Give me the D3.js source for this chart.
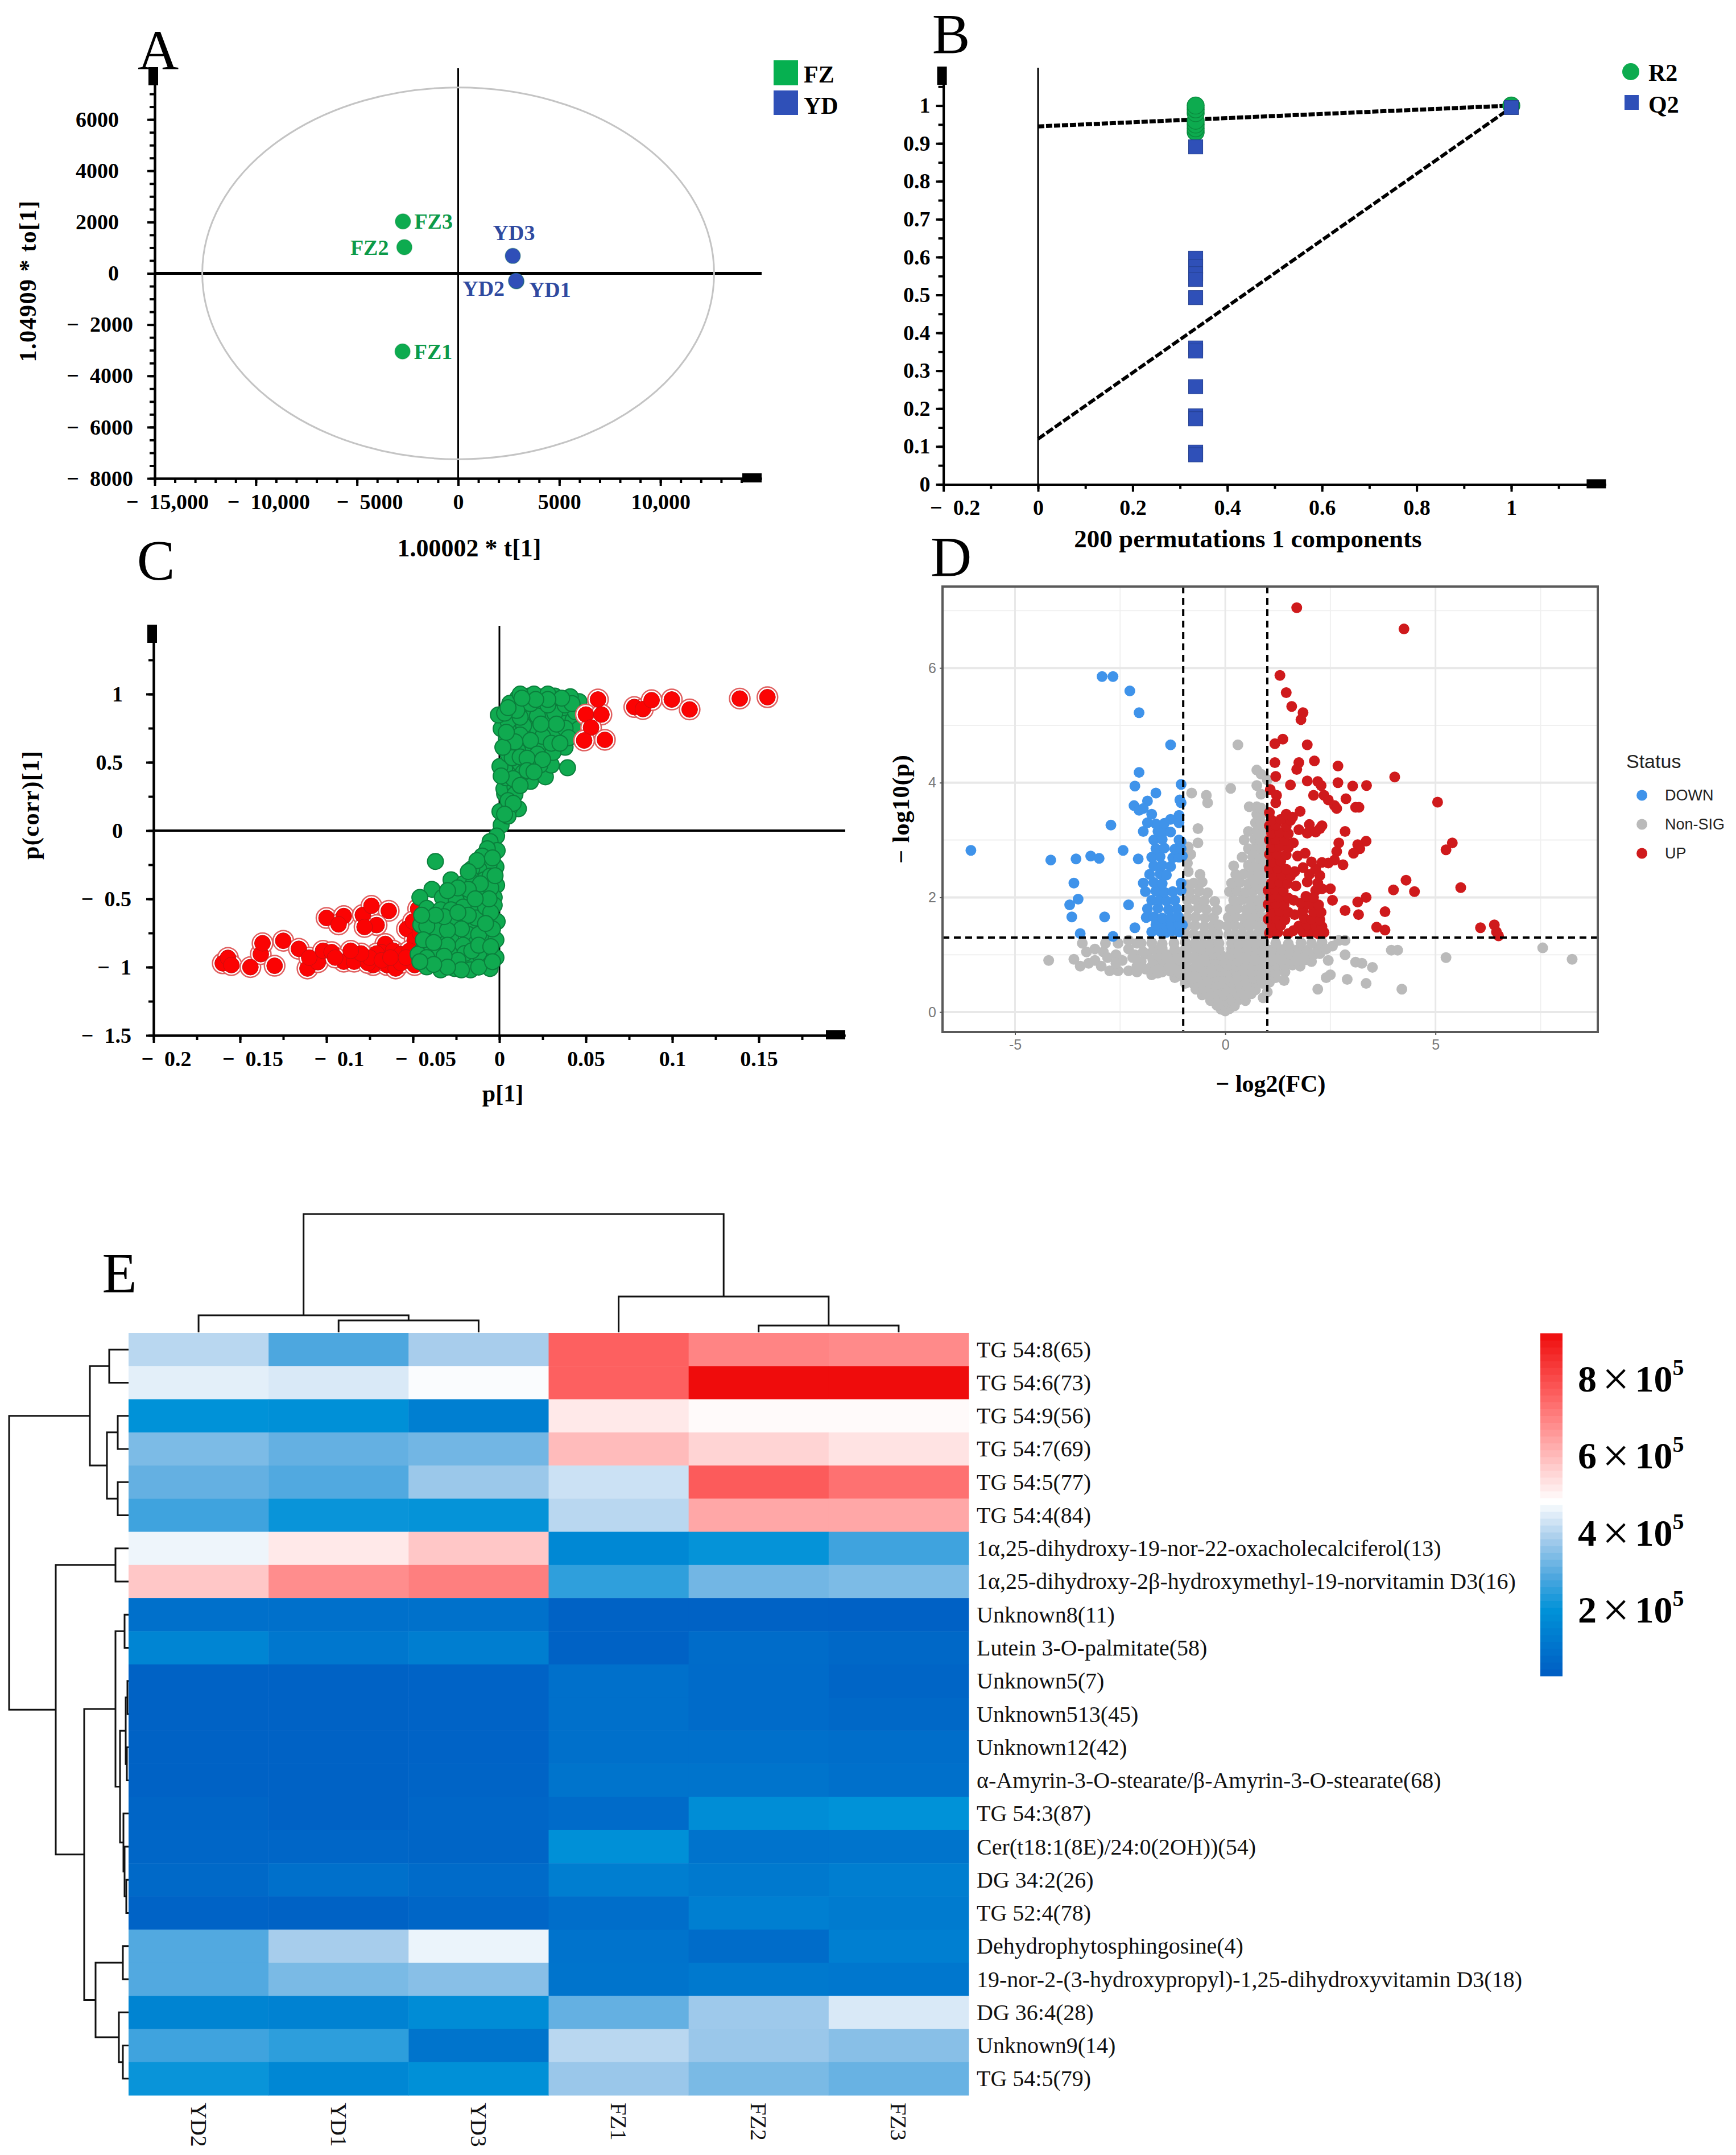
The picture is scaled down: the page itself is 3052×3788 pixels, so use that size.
<!DOCTYPE html>
<html>
<head>
<meta charset="utf-8">
<script src="https://cdn.jsdelivr.net/npm/d3@7"></script>
<style>
  body { margin: 0; background: #fff; }
  text { font-family: "Liberation Serif", serif; }
</style>
</head>
<body>
<div id="chart"></div>
<script>
// panel A - OPLS-DA scores
const scoreSamples = ["FZ1", "FZ2", "FZ3", "YD1", "YD2", "YD3"];
const scoreT = [-2750, -2660, -2730, 2880, 2860, 2700];
const scoreO = [-3045, 1020, 2025, -310, -290, 680];
const xTicksA = [-15000, -10000, -5000, 0, 5000, 10000];
const yTicksA = [-8000, -6000, -4000, -2000, 0, 2000, 4000, 6000];
const hotellingT = 12650, hotellingO = 7250;

// panel B - permutation test
const permX = [0.333, 1];
const r2Values = [0.93, 0.94, 0.95, 0.96, 0.98, 0.99, 1.0];
const q2Values = [0.891, 0.597, 0.575, 0.556, 0.541, 0.493, 0.36, 0.352, 0.258, 0.181, 0.173, 0.085, 0.078];
const r2Last = 1.0, q2Last = 0.995;
const r2Line = [[0, 0.945], [1, 1.0]];
const q2Line = [[0, 0.12], [1, 0.995]];
const xTicksB = [-0.2, 0, 0.2, 0.4, 0.6, 0.8, 1];
const yTicksB = [0, 0.1, 0.2, 0.3, 0.4, 0.5, 0.6, 0.7, 0.8, 0.9, 1];

// panel C - S-plot
const xTicksC = [-0.2, -0.15, -0.1, -0.05, 0, 0.05, 0.1, 0.15];
const yTicksC = [-1.5, -1, -0.5, 0, 0.5, 1];
const sRedLow = [[-.16,-.972],[-.157,-.932],[-.155,-.985],[-.144,-1],[-.138,-.905],[-.137,-.825],[-.13,-.99],[-.125,-.807],[-.116,-.866],[-.111,-1.01],[-.105,-.964],[-.11,-.93],[-.102,-.88],[-.097,-.89],[-.09,-.96],[-.084,-.96],[-.1,-.64],[-.09,-.626],[-.093,-.687],[-.079,-.618],[-.074,-.551],[-.064,-.588],[-.071,-.692],[-.078,-.706],[-.0535,-.72],[-.047,-.573],[-.05,-.666],[-.049,-.8],[-.066,-.83],[-.068,-.892],[-.0615,-.879],[-.057,-.905],[-.073,-.985],[-.076,-.97],[-.065,-.985],[-.06,-1.01],[-.057,-.97],[-.049,-.985],[-.052,-.88],[-.071,-.9],[-.075,-.93],[-.068,-.95],[-.063,-.93],[-.054,-.93],[-.08,-.9],[-.086,-.88],[-.095,-.93],[-.045,-.9],[-.046,-.75]];
const sRedHigh = [[.057,.96],[.078,.905],[.083,.89],[.088,.955],[.0997,.96],[.11,.887],[.139,.967],[.155,.977],[.05,.85],[.059,.85],[.053,.755],[.049,.66],[.061,.665]];
const sGreen = [[.001,.04],[.0003,.14],[.011,.16],[.006,.17],[.003,.27],[.0026,.306],[.009,.32],[.004,.386],[.018,.36],[.0074,.426],[.003,.453],[.0003,.47],[.0266,.394],[.0394,.46],[.03,.48],[.02,.546],[.012,.49],[.005,.56],[.038,.61],[.027,.56],[.015,.61],[.004,.67],[.028,.666],[.035,.72],[.0426,.72],[.0186,.706],[.009,.72],[.001,.746],[.005,.8],[.017,.81],[.028,.8],[.039,.865],[-.0006,.847],[.008,.887],[.0186,.88],[.0266,.85],[.046,.945],[.041,.98],[.032,.985],[.025,.98],[.017,.985],[.0106,.972],[.006,.932],[.0138,.93],[.0234,.92],[.033,.93],[.036,.8],[.0426,.81],[.022,.745],[.014,.77],[.031,.72],[.0234,.626],[.031,.573],[.0106,.586],[.046,.745],[.0074,.533],[.0138,.426],[.0234,.48],[.009,.266],[.005,.106],[.02,1],[.012,1],[.028,1],[.037,.9],[.044,.87],
[.012,.7],[.025,.69],[.038,.75],[.04,.68],[.03,.64],[.018,.66],[.009,.65],[.022,.56],[.035,.64],[.012,.54],[.002,.61],[.004,.72],[.012,.83],[.022,.84],[.032,.86],[.038,.92],[.028,.92],[.018,.93],[.01,.88],[.003,.86],[.033,.78],[.024,.78],[.042,.93],[.036,.97],[.028,.96],[.021,.96],[.013,.97],[.005,.9],[.016,.53],[.016,.44],[.008,.38],[.012,.33],[.005,.22],[.008,.2],[.025,.52],[.001,.4],[.003,.12],[.02,.43],
[-.0016,-.04],[-.0054,-.08],[-.0013,-.146],[-.007,-.133],[-.01,-.186],[-.037,-.226],[-.002,-.266],[-.006,-.25],[-.012,-.28],[-.016,-.28],[-.0016,-.4],[-.0087,-.36],[-.0167,-.346],[-.028,-.36],[-.0205,-.386],[-.039,-.43],[-.003,-.49],[-.012,-.44],[-.02,-.466],[-.046,-.49],[-.033,-.49],[-.025,-.51],[-.003,-.546],[-.01,-.53],[-.015,-.57],[-.042,-.57],[-.034,-.58],[-.0215,-.64],[-.0295,-.666],[-.039,-.666],[-.0455,-.69],[-.007,-.64],[-.0013,-.666],[-.0135,-.706],[-.018,-.76],[-.028,-.77],[-.04,-.786],[-.033,-.81],[-.0087,-.77],[-.002,-.8],[-.0135,-.825],[-.044,-.866],[-.047,-.905],[-.036,-.93],[-.026,-.89],[-.018,-.945],[-.007,-.88],[-.01,-.97],[-.002,-.93],[-.042,-.998],[-.034,-1.02],[-.026,-1.01],[-.0167,-1.02],[-.0054,-1.01],[-.029,-.96],[-.021,-.84],[-.0135,-.64],[-.025,-.69],[-.036,-.73],[-.0087,-.466],[-.015,-.386],[-.0054,-.333],[-.042,-.7],[-.044,-.8],[-.021,-.56],[-.028,-.58],[-.02,-.9],[-.012,-.9],[-.035,-.87],
[-.005,-.42],[-.011,-.39],[-.018,-.43],[-.008,-.56],[-.018,-.62],[-.005,-.6],[-.012,-.76],[-.004,-.72],[-.022,-.72],[-.03,-.73],[-.008,-.68],[-.032,-.63],[-.037,-.62],[-.024,-.6],[-.045,-.62],[-.016,-.88],[-.024,-.95],[-.012,-.84],[-.005,-.85],[-.03,-.84],[-.038,-.82],[-.042,-.93],[-.032,-.92],[-.012,-1],[-.004,-.96],[-.022,-1.02],[-.03,-1],[-.038,-.98],[-.046,-.96],[-.006,-.5],[-.013,-.22],[-.004,-.2],[-.018,-.3],[-.024,-.42],[-.014,-.5],[-.03,-.44],[-.0025,-.33]];

// panel D - volcano
const xTicksD = [-5, 0, 5];
const yTicksD = [0, 2, 4, 6];
const volcanoGray = [[0,.02],[-.1,.05],[.1,.06],[-.2,.12],[-.05,.13],[.1,.14],[.22,.11],[-.35,.2],[-.18,.21],[.02,.19],[.17,.2],[.33,.22],[.48,.2],[-.55,.3],[-.38,.29],[-.2,.31],[-.03,.3],[.15,.29],[.3,.31],[.46,.3],[.62,.32],[-.7,.4],[-.52,.41],[-.33,.39],[-.16,.4],[.03,.41],[.2,.39],[.37,.4],[.55,.42],[.72,.39],[.9,.25],[-.95,.5],[-.75,.49],[-.56,.51],[-.38,.5],[-.2,.48],[-.02,.5],[.16,.51],[.35,.5],[.52,.49],[.7,.52],[.88,.5],[1.05,.52],[-1.2,.6],[-1,.61],[-.8,.59],[-.6,.6],[-.42,.62],[-.22,.6],[-.05,.58],[.13,.6],[.3,.61],[.5,.6],[.68,.59],[.85,.61],[1.05,.62],[1.2,.6],[-1.5,.7],[-1.3,.71],[-1.1,.69],[-.9,.7],[-.68,.72],[-.5,.7],[-.3,.69],[-.1,.71],[.08,.7],[.27,.71],[.46,.69],[.64,.7],[.82,.72],[1,.7],[1.2,.69],[1.42,.7],[-1.75,.8],[-1.55,.79],[-1.35,.81],[-1.12,.8],[-.92,.78],[-.7,.8],[-.52,.81],[-.32,.79],[-.12,.8],[.05,.82],[.25,.8],[.43,.79],[.63,.81],[.83,.8],[1.02,.79],[1.22,.81],[1.42,.8],[1.6,.82],[1.78,.8],[-2,.88],[-1.72,.9],[-1.5,.91],[-1.3,.89],[-1.08,.9],[-.88,.92],[-.66,.9],[-.45,.89],[-.25,.91],[-.08,.9],[.12,.9],[.3,.89],[.5,.91],[.7,.9],[.9,.88],[1.12,.9],[1.3,.92],[1.5,.9],[1.7,.89],[1.9,.91],[2.05,.88],[-2.15,1],[-1.85,1.01],[-1.6,.99],[-1.38,1],[-1.15,1.02],[-.92,1],[-.7,.98],[-.5,1],[-.28,1.01],[-.1,.99],[.12,1],[.32,1.01],[.52,.99],[.72,1],[.92,1.02],[1.12,1],[1.32,.99],[1.52,1.01],[1.72,1],[1.9,.98],[2.1,1],[2.25,1.02],[-1.7,1.1],[-1.5,1.11],[-1.2,1.09],[-.95,1.1],[-.75,1.12],[-.55,1.1],[-.35,1.09],[-.15,1.1],[.15,1.1],[.35,1.11],[.55,1.09],[.75,1.1],[.95,1.12],[1.15,1.1],[1.35,1.09],[1.55,1.11],[1.75,1.1],[1.95,1.08],[2.2,1.1],[-2,1.2],[-1.75,1.21],[-1.5,1.19],[-1.22,1.2],[-.95,1.22],[-.72,1.2],[-.52,1.19],[-.33,1.21],[-.15,1.2],[.15,1.2],[.32,1.19],[.52,1.21],[.72,1.2],[.92,1.22],[1.2,1.2],[1.5,1.19],[1.8,1.21],[2.05,1.2],[2.3,1.22],
[-.95,1.35],[-.75,1.36],[-.55,1.34],[-.35,1.35],[-.18,1.37],[-.92,1.5],[-.72,1.51],[-.5,1.49],[-.3,1.5],[-.15,1.52],[-.9,1.65],[-.7,1.66],[-.48,1.64],[-.28,1.65],[-.2,1.78],[-.88,1.8],[-.65,1.81],[-.45,1.79],[-.9,1.95],[-.7,1.96],[-.5,1.94],[-.25,1.93],[-.85,2.1],[-.62,2.11],[-.42,2.08],[-.9,2.22],[-.75,2.25],[-.55,2.27],[-.6,2.4],[-.88,2.45],[-.9,2.6],[-.82,2.75],[-.88,2.88],[-.65,2.95],[-.65,3.2],[-.8,3.82],[-.45,3.78],[-.42,3.65],
[.08,1.35],[.25,1.36],[.42,1.34],[.6,1.35],[.78,1.37],[.95,1.35],[.05,1.5],[.22,1.51],[.42,1.49],[.58,1.5],[.76,1.52],[.93,1.5],[.07,1.65],[.25,1.66],[.45,1.64],[.62,1.65],[.8,1.67],[.95,1.65],[.12,1.8],[.3,1.81],[.5,1.79],[.68,1.8],[.85,1.82],[.2,1.95],[.4,1.96],[.6,1.94],[.78,1.95],[.95,1.97],[.1,2.1],[.28,2.11],[.48,2.09],[.65,2.1],[.85,2.12],[.98,2.1],[.15,2.25],[.35,2.26],[.55,2.24],[.72,2.25],[.9,2.27],[.25,2.4],[.45,2.41],[.62,2.39],[.8,2.4],[.96,2.42],[.2,2.55],[.55,2.56],[.72,2.54],[.9,2.55],[.4,2.7],[.65,2.71],[.82,2.69],[.97,2.7],[.55,2.85],[.72,2.86],[.88,2.84],[1,2.85],[.45,3],[.7,3.01],[.85,2.99],[.98,3],[.55,3.15],[.75,3.16],[.9,3.14],[.72,3.3],[.85,3.31],[.75,3.45],[.88,3.46],[.57,3.58],[.75,3.58],[.85,3.56],[.85,3.8],[.75,3.95],[.13,3.9],[.3,4.66],[.75,4.22],[.85,4.15],[1,4.05],
[-4.2,.9],[-3.6,.92],[-3.45,.8],[-3.4,1.2],[-3.3,1.05],[-3.1,1.1],[-2.9,1.05],[-3.1,.9],[-2.75,.72],[-2.55,.72],[-2.6,1],[-2.3,1.1],[-2.3,.72],[-2.45,.9],[-2.1,1.2],[-2.1,.8],[2.7,1.25],[2.85,1.25],[2.55,1.15],[2.4,1.1],[2.45,.9],[2.85,1],[3.1,.87],[3.25,.85],[3.5,.78],[3.95,1.08],[4.1,1.08],[5.25,.95],[7.55,1.12],[8.25,.92],[4.2,.4],[3.35,.5],[2.9,.57],[2.5,.65],[2.4,.6],[2.2,.4],[1.4,.55],[1,.35],
[-3.25,.85],[-2.95,.8],[-2.8,.95],[-2.6,.85],[-2.85,1.2],[-2.55,1.2],[-2.3,1.25],[-1.95,1.05],[-2.2,.95],[-2.1,.7],[-1.9,.75],[-1.75,.65],[-1.6,.68]];
const volcanoDown = [[-6.05,2.82],[-4.15,2.65],[-3.55,2.67],[-3.2,2.72],[-3,2.68],[-3.6,2.25],[-3.5,1.97],[-3.7,1.87],[-3.65,1.66],[-2.87,1.66],[-2.3,1.87],[-3.45,1.37],[-2.67,1.32],[-2.15,1.47],[-2.43,2.82],[-2.07,2.67],[-2.72,3.26],[-2.93,5.85],[-2.67,5.85],[-2.27,5.6],[-2.05,5.22],[-1.3,4.66],[-2.05,4.18],[-2.15,3.94],[-1.05,3.97],[-1.65,3.82],[-1.08,3.7],[-1.85,3.68],[-2.17,3.6],[-2.05,3.52],[-1.95,3.55],[-1.05,3.65],[-1.75,3.45],[-1.1,3.43],[-1.3,3.36],
[-1.75,1.4],[-1.55,1.41],[-1.4,1.39],[-1.25,1.42],[-1.1,1.4],[-1.65,1.52],[-1.45,1.53],[-1.28,1.51],[-1.1,1.54],[-1.02,1.52],[-1.88,1.65],[-1.7,1.66],[-1.5,1.64],[-1.3,1.65],[-1.12,1.67],[-1.85,1.8],[-1.6,1.81],[-1.35,1.79],[-1.15,1.8],[-1.75,1.95],[-1.55,1.96],[-1.4,1.94],[-1.2,1.95],[-1.9,2.1],[-1.65,2.11],[-1.45,2.09],[-1.25,2.1],[-1.05,2.12],[-1.95,2.25],[-1.7,2.26],[-1.5,2.24],[-1.05,2.25],[-1.8,2.4],[-1.55,2.41],[-1.4,2.39],[-1.7,2.55],[-1.5,2.56],[-1.3,2.54],[-1.75,2.7],[-1.55,2.71],[-1.25,2.69],[-1.1,2.7],[-1.02,2.72],[-1.65,2.85],[-1.45,2.86],[-1.2,2.84],[-1.05,2.85],[-1.7,3],[-1.5,3.01],[-1.1,3],[-1.05,2.97],[-1.6,3.15],[-1.45,3.16],[-1.3,3.14],[-1.95,3.15],[-1.65,3.28],[-1.85,3.3],[-1.45,3.29],[-1.1,3.3]];
const volcanoUp = [[1.7,7.05],[4.25,6.68],[1.3,5.87],[1.45,5.57],[1.58,5.33],[1.85,5.22],[1.8,5.1],[1.37,4.76],[1.18,4.68],[1.95,4.66],[1.18,4.35],[1.75,4.35],[2.12,4.38],[2.68,4.29],[1.7,4.23],[1.2,4.11],[4.03,4.1],[1.55,3.96],[1.95,4.03],[2.2,4.02],[2.28,3.95],[2.68,4],[3.03,3.94],[3.36,3.95],[1.07,3.88],[1.22,3.78],[1.2,3.65],[2.1,3.78],[2.35,3.78],[2.45,3.7],[2.87,3.72],[2.6,3.6],[2.65,3.55],[3.1,3.57],[3.18,3.57],[5.05,3.66],[5.4,2.95],[5.25,2.83],[3.35,2.98],[3.15,2.92],[3.2,2.85],[3.05,2.77],[2.85,3.15],[2.7,2.95],[2.65,2.8],[2.6,2.65],[2.8,2.57],[2.45,2.6],[4.3,2.3],[4,2.13],[4.5,2.1],[5.6,2.17],[3.35,2],[3.15,1.92],[2.85,1.77],[3.17,1.7],[3.8,1.75],[3.6,1.48],[3.8,1.43],[6.07,1.47],[6.4,1.52],[6.45,1.4],[6.5,1.33],[2.55,1.95],[2.5,2.15],[2.3,2.15],[2.15,2.12],
[1.05,1.38],[1.25,1.39],[1.5,1.37],[1.85,1.4],[2,1.38],[2.2,1.37],[2.35,1.39],[1.12,1.5],[1.32,1.51],[1.75,1.5],[1.95,1.52],[2.15,1.5],[2.3,1.49],[1.02,1.62],[1.22,1.63],[1.42,1.61],[1.88,1.64],[2.05,1.62],[2.25,1.61],[1.1,1.75],[1.3,1.76],[1.5,1.74],[1.85,1.77],[2.1,1.75],[2.28,1.74],[1.02,1.88],[1.2,1.89],[1.4,1.87],[1.8,1.9],[2,1.88],[2.22,1.87],[1.08,2],[1.28,2.01],[1.5,1.99],[1.92,2.02],[2.1,2],[1.02,2.12],[1.18,2.13],[1.38,2.11],[1.1,2.25],[1.3,2.26],[1.48,2.24],[1.95,2.27],[2.2,2.25],[1.15,2.38],[1.35,2.39],[1.55,2.37],[2,2.4],[2.25,2.38],[1.05,2.5],[1.25,2.51],[1.45,2.49],[1.85,2.52],[2.15,2.5],[1.12,2.62],[1.32,2.63],[2.05,2.62],[2.3,2.61],[1.05,2.75],[1.22,2.76],[1.45,2.74],[1.9,2.77],[1.1,2.88],[1.3,2.89],[1.5,2.87],[1.05,3],[1.2,3.01],[1.42,2.99],[1.1,3.12],[1.3,3.13],[1.5,3.11],[1.95,3.12],[2.15,3.14],[1.05,3.25],[1.2,3.26],[1.45,3.24],[2,3.27],[2.3,3.25],[2.25,3.2],[1.1,3.35],[1.32,3.36],[1.55,3.34],[1.05,3.48],[1.45,3.45],[1.78,3.5],[1.6,3.4],
[1.62,1.42],[1.65,1.7],[1.63,1.95],[1.68,2.2],[1.65,2.45],[1.72,2.72],[1.62,2.95],[1.75,3.18]];

// panel E - heatmap, values in 1e5
const heatColumns = ["YD2", "YD1", "YD3", "FZ1", "FZ2", "FZ3"];
const heatRows = ["TG 54:8(65)", "TG 54:6(73)", "TG 54:9(56)", "TG 54:7(69)", "TG 54:5(77)", "TG 54:4(84)",
  "1α,25-dihydroxy-19-nor-22-oxacholecalciferol(13)", "1α,25-dihydroxy-2β-hydroxymethyl-19-norvitamin D3(16)",
  "Unknown8(11)", "Lutein 3-O-palmitate(58)", "Unknown5(7)", "Unknown513(45)", "Unknown12(42)",
  "α-Amyrin-3-O-stearate/β-Amyrin-3-O-stearate(68)", "TG 54:3(87)", "Cer(t18:1(8E)/24:0(2OH))(54)", "DG 34:2(26)",
  "TG 52:4(78)", "Dehydrophytosphingosine(4)", "19-nor-2-(3-hydroxypropyl)-1,25-dihydroxyvitamin D3(18)",
  "DG 36:4(28)", "Unknown9(14)", "TG 54:5(79)"];
const heatValues = [
  [3.95, 2.75, 3.76, 7.5, 6.85, 6.75],
  [4.41, 4.3, 4.66, 7.5, 9.1, 9.1],
  [1.9, 1.85, 1.3, 5.1, 4.8, 4.8],
  [3.27, 3.0, 3.16, 5.9, 5.47, 5.2],
  [3.0, 2.79, 3.62, 4.15, 7.6, 7.2],
  [2.6, 2.0, 1.95, 3.95, 6.25, 6.25],
  [4.53, 5.1, 5.7, 1.58, 1.95, 2.6],
  [5.7, 6.7, 6.95, 2.42, 3.16, 3.27],
  [0.8, 0.8, 0.85, 0.35, 0.35, 0.33],
  [1.5, 1.05, 1.25, 0.35, 0.7, 0.55],
  [0.35, 0.35, 0.4, 0.8, 0.65, 0.45],
  [0.35, 0.35, 0.4, 0.8, 0.65, 0.55],
  [0.38, 0.38, 0.4, 0.8, 0.8, 0.75],
  [0.38, 0.38, 0.42, 0.95, 0.95, 0.8],
  [0.45, 0.35, 0.5, 0.65, 1.75, 1.9],
  [0.5, 0.5, 0.45, 1.85, 0.9, 0.95],
  [0.6, 0.8, 0.65, 1.25, 1.1, 1.25],
  [0.4, 0.38, 0.5, 0.75, 1.3, 1.15],
  [2.8, 3.75, 4.5, 0.9, 0.7, 1.3],
  [2.8, 3.25, 3.4, 0.95, 1.1, 1.05],
  [1.45, 1.4, 1.7, 3.0, 3.65, 4.3],
  [2.6, 2.4, 0.95, 3.95, 3.6, 3.4],
  [2.0, 1.55, 1.85, 3.6, 3.25, 3.05]
];
// [height, left, right], a plain number is a leaf index
const colTree = [208, [30, 0, [21, 1, 2]], [63, 3, [12, 4, 5]]];
const rowTree = [210,
  [68, [34, 0, 1], [38, [19, 2, 3], [19, 4, 5]]],
  [128, [23, 6, 7],
    [78,
      [23, [7, 8, 9], [15, [5, [2, 10, 11], [3, 12, 13]], [9, 14, [7, 15, [4, 16, 17]]]]],
      [58, [10, 18, 19], [17, 20, [10, 21, 22]]]]]];
const legendTicks = [2, 4, 6, 8];
const colorStops = [0.27, 1.9, 2.75, 3.76, 4.72, 6.75, 7.5, 9.17];
const colorRange = ["#005fc4", "#0092d8", "#4da7df", "#a8cdec", "#ffffff", "#ff8a8a", "#fd6060", "#ee0808"];

const svg = d3.select("#chart").append("svg")
  .attr("width", 3052).attr("height", 3788)
  .style("display", "block").style("background", "#fff");

function label(txt, x, y, opt = {}) {
  const t = svg.append("text")
    .attr("x", x).attr("y", y)
    .attr("text-anchor", opt.anchor || "middle")
    .attr("dominant-baseline", "central")
    .attr("font-size", opt.size || 42)
    .attr("font-weight", opt.weight || "bold")
    .attr("fill", opt.fill || "#000")
    .text(txt);
  if (opt.family) t.style("font-family", opt.family);
  if (opt.spacing) t.attr("letter-spacing", opt.spacing);
  if (opt.rotate) t.attr("transform", `rotate(${opt.rotate},${x},${y})`);
  return t;
}

// black axis with long and short ticks, and the two square handles at the ends
function simcaAxes(x, y, o) {
  const xRange = x.range(), yRange = y.range();
  const x0 = xRange[0], y0 = yRange[0];

  const styleAxis = g => {
    g.select(".domain").attr("stroke", "#000").attr("stroke-width", 4);
    g.selectAll(".tick line").attr("stroke", "#000").attr("stroke-width", 4);
    g.selectAll("text").attr("fill", "#000").attr("font-size", 38).attr("font-weight", "bold")
      .style("font-family", '"Liberation Serif", serif');
  };

  svg.append("g").attr("transform", `translate(0,${y0})`)
    .call(d3.axisBottom(x).tickValues(o.xMinor).tickSize(8).tickFormat("").tickSizeOuter(0)).call(styleAxis);
  svg.append("g").attr("transform", `translate(${x0},0)`)
    .call(d3.axisLeft(y).tickValues(o.yMinor).tickSize(9).tickFormat("").tickSizeOuter(0)).call(styleAxis);

  svg.append("g").attr("transform", `translate(0,${y0})`)
    .call(d3.axisBottom(x).tickValues(o.xTicks).tickSize(13).tickPadding(14).tickSizeOuter(0).tickFormat(o.format))
    .call(styleAxis)
    .selectAll("text").attr("dx", d => d < 0 ? o.xShift : 0);
  svg.append("g").attr("transform", `translate(${x0},0)`)
    .call(d3.axisLeft(y).tickValues(o.yTicks).tickSize(13).tickPadding(o.yPad).tickSizeOuter(0).tickFormat(o.format))
    .call(styleAxis)
    .selectAll("text").attr("dx", d => d < 0 ? o.yShift : 0);

  svg.append("rect").attr("x", x0 - 11).attr("y", yRange[1] - 2).attr("width", 17).attr("height", 32).attr("fill", "#000");
  svg.append("rect").attr("x", xRange[1] - 34).attr("y", y0 - 9).attr("width", 34).attr("height", 16).attr("fill", "#000");
}

function fmt(d) {
  const a = Math.abs(d);
  const s = a >= 10000 ? d3.format(",")(a) : String(a);
  return d < 0 ? "\u2212\u2002" + s : s;
}

function hvLine(x1, y1, x2, y2, w) {
  svg.append("line").attr("x1", x1).attr("y1", y1).attr("x2", x2).attr("y2", y2)
    .attr("stroke", "#000").attr("stroke-width", w);
}

// ---------- A ----------
const xA = d3.scaleLinear().domain([-15000, 15000]).range([272, 1339]);
const yA = d3.scaleLinear().domain([-8000, 8000]).range([841, 120]);
simcaAxes(xA, yA, {
  xTicks: xTicksA, yTicks: yTicksA, format: fmt, xShift: 22, yShift: 25, yPad: 50,
  xMinor: d3.range(-15000, 14001, 1000), yMinor: d3.range(-8000, 7501, 500)
});
hvLine(xA(-15000), yA(0), xA(15000), yA(0), 5);
hvLine(xA(0), yA(8000), xA(0), yA(-8000), 3);
svg.append("ellipse")
  .attr("cx", xA(0)).attr("cy", yA(0))
  .attr("rx", xA(hotellingT) - xA(0)).attr("ry", yA(0) - yA(hotellingO))
  .attr("fill", "none").attr("stroke", "#c4c4c4").attr("stroke-width", 3);

const groupColor = s => s.startsWith("FZ") ? "#0dab4f" : "#2f4fb8";
const groupText = s => s.startsWith("FZ") ? "#0c9a48" : "#2f4aa0";
const labelOffset = { FZ1: [20, 0], FZ2: [-95, 0], FZ3: [20, 0], YD1: [22, 15], YD2: [-94, 13], YD3: [-35, -41] };
svg.selectAll(".score").data(scoreSamples).enter().append("circle")
  .attr("cx", (d, i) => xA(scoreT[i])).attr("cy", (d, i) => yA(scoreO[i])).attr("r", 13.5)
  .attr("fill", groupColor).attr("stroke", "#0a7a3a").attr("stroke-opacity", .3).attr("stroke-width", 1.5);
scoreSamples.forEach((s, i) => {
  label(s, xA(scoreT[i]) + labelOffset[s][0], yA(scoreO[i]) + labelOffset[s][1],
    { anchor: "start", size: 38, fill: groupText(s) });
});
svg.append("rect").attr("x", 1360).attr("y", 106).attr("width", 43).attr("height", 44).attr("fill", "#06b050");
svg.append("rect").attr("x", 1360).attr("y", 159).attr("width", 43).attr("height", 43).attr("fill", "#2f50b8");
label("FZ", 1413, 131, { anchor: "start" });
label("YD", 1413, 186, { anchor: "start" });
label("1.00002 * t[1]", 825, 963, { size: 44 });
label("1.04909 * to[1]", 49, 494, { rotate: -90, spacing: 1.5 });
label("A", 278, 88, { size: 100, weight: "normal" });

// ---------- B ----------
const xB = d3.scaleLinear().domain([-0.2, 1.2]).range([1658.6, 2823.4]);
const yB = d3.scaleLinear().domain([0, 1.1]).range([851.4, 119]);
simcaAxes(xB, yB, {
  xTicks: xTicksB, yTicks: yTicksB, format: fmt, xShift: 20, yShift: 0, yPad: 10,
  xMinor: d3.range(-0.2, 1.15, 0.1), yMinor: d3.range(0, 1.06, 0.05)
});
hvLine(xB(0), yB(1.1), xB(0), yB(0), 3);
const permLine = d3.line().x(d => xB(d[0])).y(d => yB(d[1]));
[r2Line, q2Line].forEach((l, i) => {
  svg.append("path").attr("d", permLine(l)).attr("fill", "none").attr("stroke", "#000")
    .attr("stroke-width", i === 0 ? 7 : 6).attr("stroke-dasharray", i === 0 ? "11 3" : "14 4");
});
const r2Pts = r2Values.map(v => [permX[0], v]).concat([[permX[1], r2Last]]);
const q2Pts = q2Values.map(v => [permX[0], v]).concat([[permX[1], q2Last]]);
svg.selectAll(".r2").data(r2Pts).enter().append("circle")
  .attr("cx", d => xB(d[0])).attr("cy", d => yB(d[1])).attr("r", 15)
  .attr("fill", "#0dab4f").attr("stroke", "#0a8a3e").attr("stroke-width", 1.5);
svg.selectAll(".q2").data(q2Pts).enter().append("rect")
  .attr("x", d => xB(d[0]) - 12.5).attr("y", d => yB(d[1]) - 12.5).attr("width", 25).attr("height", 25)
  .attr("fill", "#2f50b8").attr("stroke", "#24408f").attr("stroke-width", 1);
svg.append("circle").attr("cx", 2867).attr("cy", 126).attr("r", 15).attr("fill", "#0dab4f");
svg.append("rect").attr("x", 2856).attr("y", 167).attr("width", 25).attr("height", 26).attr("fill", "#2f50b8");
label("R2", 2898, 128, { anchor: "start" });
label("Q2", 2898, 184, { anchor: "start" });
label("200 permutations 1 components", 2194, 947, { size: 45 });
label("B", 1672, 59, { size: 100, weight: "normal" });

// ---------- C ----------
const xC = d3.scaleLinear().domain([-0.2, 0.2]).range([270, 1486]);
const yC = d3.scaleLinear().domain([-1.5, 1.5]).range([1820, 1100]);
simcaAxes(xC, yC, {
  xTicks: xTicksC, yTicks: yTicksC, format: fmt, xShift: 22, yShift: 15, yPad: 41,
  xMinor: d3.range(-0.2, 0.19, 0.025), yMinor: d3.range(-1.5, 1.26, 0.25)
});
hvLine(xC(-0.2), yC(0), xC(0.2), yC(0), 4);
hvLine(xC(0), yC(1.5), xC(0), yC(-1.5), 3);
function redDots(data) {
  svg.append("g").selectAll("circle").data(data).enter().append("circle")
    .attr("cx", d => xC(d[0])).attr("cy", d => yC(d[1])).attr("r", 18)
    .attr("fill", "#fff").attr("stroke", "#e06060").attr("stroke-width", 2.5);
  svg.append("g").selectAll("circle").data(data).enter().append("circle")
    .attr("cx", d => xC(d[0])).attr("cy", d => yC(d[1])).attr("r", 14)
    .attr("fill", "#fb0303").attr("stroke", "#c81010").attr("stroke-width", 1);
}
redDots(sRedLow);
svg.append("g").selectAll("circle").data(sGreen).enter().append("circle")
  .attr("cx", d => xC(d[0])).attr("cy", d => yC(d[1])).attr("r", 14)
  .attr("fill", "#10aa50").attr("stroke", "#0b7f3c").attr("stroke-width", 2);
redDots(sRedHigh);
label("p(corr)[1]", 54, 1415, { rotate: -90, spacing: 1.5 });
label("p[1]", 884, 1922);
label("C", 274, 984, { size: 100, weight: "normal" });

// ---------- D ----------
const xD = d3.scaleLinear().domain([-6.725, 8.86]).range([1657, 2809]);
const yD = d3.scaleLinear().domain([-0.347, 7.42]).range([1814, 1031]);
[-2.5, 2.5, 7.5].forEach(v => svg.append("line").attr("x1", xD(v)).attr("x2", xD(v)).attr("y1", 1031).attr("y2", 1814).attr("stroke", "#f0f0f0").attr("stroke-width", 2));
[1, 3, 5, 7].forEach(v => svg.append("line").attr("y1", yD(v)).attr("y2", yD(v)).attr("x1", 1657).attr("x2", 2809).attr("stroke", "#f0f0f0").attr("stroke-width", 2));
xTicksD.forEach(v => svg.append("line").attr("x1", xD(v)).attr("x2", xD(v)).attr("y1", 1031).attr("y2", 1814).attr("stroke", "#e8e8e8").attr("stroke-width", 3));
yTicksD.forEach(v => svg.append("line").attr("y1", yD(v)).attr("y2", yD(v)).attr("x1", 1657).attr("x2", 2809).attr("stroke", "#e8e8e8").attr("stroke-width", 4));

const volcanoColor = { DOWN: "#3f93ea", "Non-SIG": "#bababa", UP: "#cf1a1c" };
[[volcanoGray, "Non-SIG"], [volcanoDown, "DOWN"], [volcanoUp, "UP"]].forEach(([pts, k]) => {
  svg.append("g").selectAll("circle").data(pts).enter().append("circle")
    .attr("cx", d => xD(d[0])).attr("cy", d => yD(d[1])).attr("r", 9.5).attr("fill", volcanoColor[k]);
});
const dash = "12 8";
[-1, 1].forEach(v => svg.append("line").attr("x1", xD(v)).attr("x2", xD(v)).attr("y1", 1031).attr("y2", 1814)
  .attr("stroke", "#000").attr("stroke-width", 4).attr("stroke-dasharray", dash));
svg.append("line").attr("x1", 1657).attr("x2", 2809).attr("y1", yD(1.3)).attr("y2", yD(1.3))
  .attr("stroke", "#000").attr("stroke-width", 4).attr("stroke-dasharray", dash);
svg.append("rect").attr("x", 1657).attr("y", 1031).attr("width", 1152).attr("height", 783)
  .attr("fill", "none").attr("stroke", "#5a5a5a").attr("stroke-width", 4);

const styleD = g => {
  g.select(".domain").remove();
  g.selectAll(".tick line").attr("stroke", "#555").attr("stroke-width", 2);
  g.selectAll("text").attr("fill", "#777").attr("font-size", 25).style("font-family", '"Liberation Sans", sans-serif');
};
svg.append("g").attr("transform", "translate(0,1814)")
  .call(d3.axisBottom(xD).tickValues(xTicksD).tickSize(5).tickPadding(8).tickFormat(d => d)).call(styleD);
svg.append("g").attr("transform", "translate(1657,0)")
  .call(d3.axisLeft(yD).tickValues(yTicksD).tickSize(5).tickPadding(6).tickFormat(d => d)).call(styleD);

label("\u2212 log10(p)", 1584, 1422, { rotate: -90, spacing: 1 });
label("\u2212 log2(FC)", 2234, 1905);
label("D", 1672, 978, { size: 100, weight: "normal" });

const sans = '"Liberation Sans", sans-serif';
label("Status", 2859, 1338, { anchor: "start", size: 34, weight: "normal", family: sans, fill: "#222" });
["DOWN", "Non-SIG", "UP"].forEach((k, i) => {
  const ly = 1398 + i * 51;
  svg.append("circle").attr("cx", 2886.6).attr("cy", ly).attr("r", 9.5).attr("fill", volcanoColor[k]);
  label(k, 2927, ly, { anchor: "start", size: 27, weight: "normal", family: sans, fill: "#222" });
});

// ---------- E ----------
const xE = d3.scaleBand().domain(heatColumns).range([226, 1703]);
const yE = d3.scaleBand().domain(heatRows.map((r, i) => i)).range([2343, 3683]);
const heatColor = d3.scaleLinear().domain(colorStops).range(colorRange);

heatValues.forEach((row, r) => {
  svg.append("g").selectAll("rect").data(row).enter().append("rect")
    .attr("x", (d, c) => xE(heatColumns[c])).attr("y", yE(r))
    .attr("width", xE.bandwidth() + .5).attr("height", yE.bandwidth() + .5)
    .attr("fill", d => heatColor(d));
});
heatRows.forEach((name, r) => {
  label(name, 1717, yE(r) + yE.bandwidth() / 2, { anchor: "start", size: 40, weight: "normal", fill: "#111" });
});
heatColumns.forEach(name => {
  svg.append("text").attr("transform", `translate(${xE(name) + xE.bandwidth() / 2},3696) rotate(90)`)
    .attr("dominant-baseline", "central").attr("font-size", 40).attr("fill", "#111").text(name);
});

// dendrograms
const colHeight = d3.scaleLinear().domain([0, 208]).range([2342, 2134]);
const rowHeight = d3.scaleLinear().domain([0, 210]).range([226, 16]);
function drawCol(n) {
  if (typeof n === "number") return { p: xE(heatColumns[n]) + xE.bandwidth() / 2, h: 0 };
  const a = drawCol(n[1]), b = drawCol(n[2]);
  svg.append("path").attr("fill", "none").attr("stroke", "#111").attr("stroke-width", 3)
    .attr("d", `M${a.p},${colHeight(a.h)}V${colHeight(n[0])}H${b.p}V${colHeight(b.h)}`);
  return { p: (a.p + b.p) / 2, h: n[0] };
}
function drawRow(n) {
  if (typeof n === "number") return { p: yE(n) + yE.bandwidth() / 2, h: 0 };
  const a = drawRow(n[1]), b = drawRow(n[2]);
  svg.append("path").attr("fill", "none").attr("stroke", "#111").attr("stroke-width", 3)
    .attr("d", `M${rowHeight(a.h)},${a.p}H${rowHeight(n[0])}V${b.p}H${rowHeight(b.h)}`);
  return { p: (a.p + b.p) / 2, h: n[0] };
}
drawCol(colTree);
drawRow(rowTree);
label("E", 210, 2237, { size: 100, weight: "normal" });

// colour bar
const yLegend = d3.scaleLinear().domain([colorStops[0], colorStops[colorStops.length - 1]]).range([2946, 2344]);
const steps = d3.range(colorStops[0], 9.17, (9.17 - colorStops[0]) / 50);
svg.append("g").selectAll("rect").data(steps).enter().append("rect")
  .attr("x", 2708).attr("width", 39)
  .attr("y", d => yLegend(d) - 12.5).attr("height", 13)
  .attr("fill", d => heatColor(d));
legendTicks.forEach(v => {
  const t = svg.append("text").attr("x", 2774).attr("y", yLegend(v))
    .attr("dominant-baseline", "central").attr("font-size", 66).attr("font-weight", "bold");
  t.append("tspan").text(v);
  t.append("tspan").attr("font-size", 84).attr("font-weight", "normal").attr("dx", 10).text("×");
  t.append("tspan").attr("dx", 10).text("10");
  t.append("tspan").attr("dy", -20).attr("font-size", 40).text("5");
});
</script>
</body>
</html>
